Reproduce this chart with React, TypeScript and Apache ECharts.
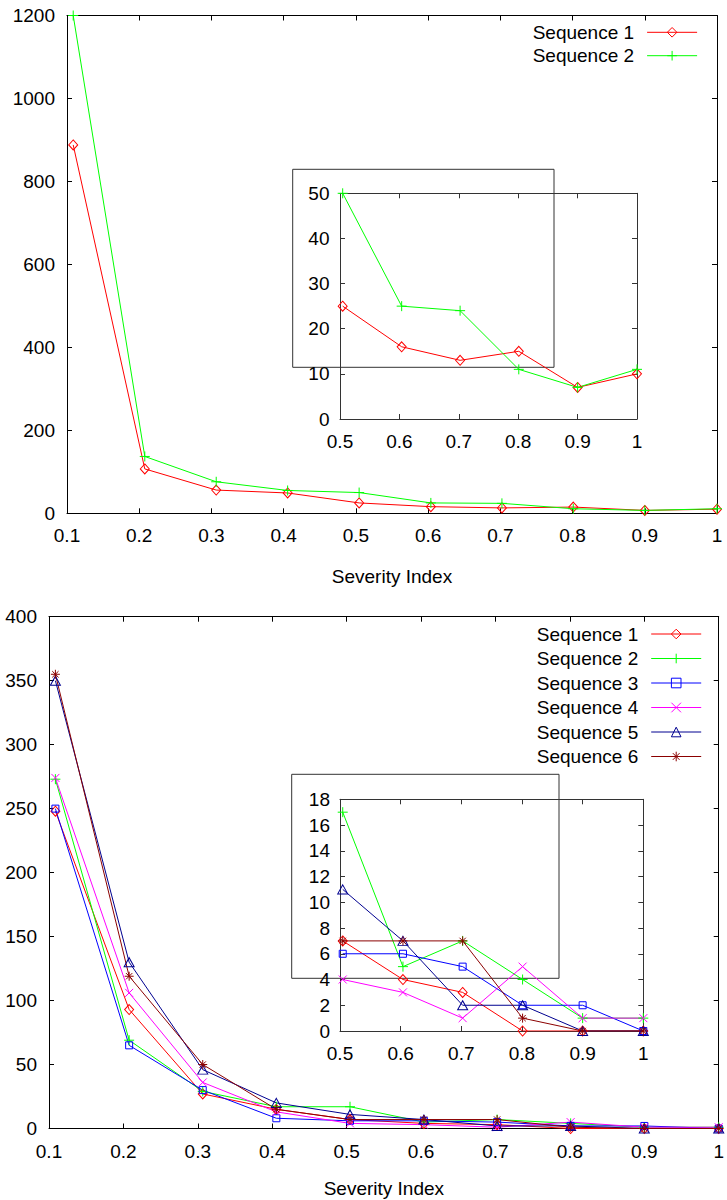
import React, { useEffect, useRef } from "react";
import * as echarts from "echarts";

// Severity index positions of the points (slightly right of the nominal bins)
const severity = [0.1086, 0.2077, 0.3066, 0.4055, 0.5045, 0.6038, 0.7022, 0.801, 0.9, 1.0];

// Top figure
const topSeq1 = [888, 107, 56, 49, 25, 16, 13, 15, 7, 10];
const topSeq2 = [1200, 137, 76, 55, 50, 25, 24, 11, 7, 11];

// Bottom figure
const botSeq1 = [248, 93, 27, 15, 7, 4, 3, 0, 0, 0];
const botSeq2 = [273, 69, 29, 17, 17, 5, 7, 4, 1, 1];
const botSeq3 = [250, 65, 30, 8, 6, 6, 5, 2, 2, 0];
const botSeq4 = [274, 106, 36, 13, 4, 3, 1, 5, 1, 1];
const botSeq5 = [350, 130, 46, 20, 11, 7, 2, 2, 0, 0];
const botSeq6 = [355, 119, 50, 15, 7, 7, 7, 1, 0, 0];

const seqNames = ["Sequence 1", "Sequence 2", "Sequence 3", "Sequence 4", "Sequence 5", "Sequence 6"];
const seqColors = ["#ff0000", "#00ff00", "#0000ff", "#ff00ff", "#000090", "#8b0000"];
const seqSymbols = [
  "diamond",
  "path://M5,0L5,10M0,5L10,5",
  "rect",
  "path://M0,0L10,10M10,0L0,10",
  "triangle",
  "path://M5,0L5,10M0,5L10,5M1.5,1.5L8.5,8.5M8.5,1.5L1.5,8.5",
];
const seqSymbolSizes: any[] = [[9, 10], 10, 7, 8, [10, 9], 9];

const FONT = "Liberation Sans";
const FS = 19;

function pairs(vals: number[], from = 0) {
  const out: number[][] = [];
  for (let i = from; i < vals.length; i++) out.push([severity[i], vals[i]]);
  return out;
}

function mkSeries(idx: number, vals: number[], axisIndex: number, from = 0) {
  const c = seqColors[idx];
  return {
    type: "line",
    name: seqNames[idx],
    xAxisIndex: axisIndex,
    yAxisIndex: axisIndex,
    data: pairs(vals, from),
    symbol: seqSymbols[idx],
    symbolSize: seqSymbolSizes[idx],
    showSymbol: true,
    lineStyle: { color: c, width: 1 },
    itemStyle: { color: "transparent", borderColor: c, borderWidth: 1 },
    emphasis: { disabled: true },
    clip: true,
  };
}

function axisPair(gridIndex: number, dim: "x" | "y", min: number, max: number, interval: number, color: string, labelMargin: number, extra: any = {}) {
  const base = {
    type: "value",
    gridIndex,
    min,
    max,
    interval,
    splitLine: { show: false },
    axisLine: { show: true, onZero: false, lineStyle: { color, width: 1 } },
    axisTick: { show: true, inside: true, length: 5, lineStyle: { color, width: 1 } },
  };
  const main = {
    ...base,
    position: dim === "x" ? "bottom" : "left",
    axisLabel: {
      show: true,
      color: "#000",
      fontSize: FS,
      fontFamily: FONT,
      margin: labelMargin,
      formatter: (v: number) => String(Math.round(v * 1000) / 1000),
    },
    ...extra,
  };
  const mirror = {
    ...base,
    position: dim === "x" ? "top" : "right",
    axisLabel: { show: false },
  };
  return [main, mirror];
}

function legendData(n: number) {
  return seqNames.slice(0, n).map((name, i) => ({
    name,
    itemStyle: { color: "transparent", borderColor: seqColors[i], borderWidth: 1 },
    lineStyle: { color: seqColors[i], width: 1 },
  }));
}

function buildOption() {
  const grids = [
    { left: 67, top: 15.5, width: 650, height: 497.8 },
    { left: 340, top: 193.3, width: 297, height: 225.7 },
    { left: 49, top: 616.7, width: 677, height: 511.8 },
    { left: 340, top: 799.3, width: 303.3, height: 231.7 },
  ].map((g) => ({ ...g, containLabel: false, show: false }));

  const nameCfg = (gap: number) => ({
    name: "Severity Index",
    nameLocation: "middle",
    nameGap: gap,
    nameTextStyle: { color: "#000", fontSize: FS, fontFamily: FONT },
  });

  const inset = "#333";
  const xAxis = [
    ...axisPair(0, "x", 0.1, 1, 0.1, "#000", 13, nameCfg(54)),
    ...axisPair(1, "x", 0.5, 1, 0.1, inset, 13),
    ...axisPair(2, "x", 0.1, 1, 0.1, "#000", 13, nameCfg(50)),
    ...axisPair(3, "x", 0.5, 1, 0.1, inset, 13),
  ];
  const yAxis = [
    ...axisPair(0, "y", 0, 1200, 200, "#000", 12),
    ...axisPair(1, "y", 0, 50, 10, inset, 10.5),
    ...axisPair(2, "y", 0, 400, 50, "#000", 12),
    ...axisPair(3, "y", 0, 18, 2, inset, 10),
  ];

  const botAll = [botSeq1, botSeq2, botSeq3, botSeq4, botSeq5, botSeq6];
  const series: any[] = [
    mkSeries(0, topSeq1, 0),
    mkSeries(1, topSeq2, 0),
    mkSeries(0, topSeq1, 2, 4),
    mkSeries(1, topSeq2, 2, 4),
    ...botAll.map((v, i) => mkSeries(i, v, 4)),
    ...botAll.map((v, i) => mkSeries(i, v, 6, 4)),
  ];

  const legendBase = {
    orient: "vertical",
    align: "right",
    itemWidth: 50,
    itemHeight: 12,
    selectedMode: false,
    textStyle: { color: "#000", fontSize: FS, fontFamily: FONT, lineHeight: 19, padding: [0, 8, 0, 0] },
  };

  return {
    animation: false,
    backgroundColor: "#fff",
    grid: grids,
    xAxis,
    yAxis,
    series,
    legend: [
      { ...legendBase, data: legendData(2), top: 17.8, right: 24.4, itemGap: 4.4 },
      { ...legendBase, data: legendData(6), top: 619.5, right: 20.3, itemGap: 5.5 },
    ],
    graphic: [
      {
        type: "rect",
        shape: { x: 292.7, y: 169.3, width: 261.3, height: 198 },
        style: { fill: "none", stroke: inset, lineWidth: 1 },
        silent: true,
      },
      {
        type: "rect",
        shape: { x: 291.7, y: 774.3, width: 267.3, height: 204 },
        style: { fill: "none", stroke: inset, lineWidth: 1 },
        silent: true,
      },
    ],
  };
}

export default function App() {
  const ref = useRef<HTMLDivElement>(null);
  useEffect(() => {
    if (!ref.current) return;
    const chart = echarts.init(ref.current, undefined, { renderer: "svg" });
    chart.setOption(buildOption() as any);
    return () => chart.dispose();
  }, []);
  return (
    <div
      ref={ref}
      style={{ position: "absolute", left: 0, top: 0, width: 727, height: 1200, background: "#fff" }}
    />
  );
}
